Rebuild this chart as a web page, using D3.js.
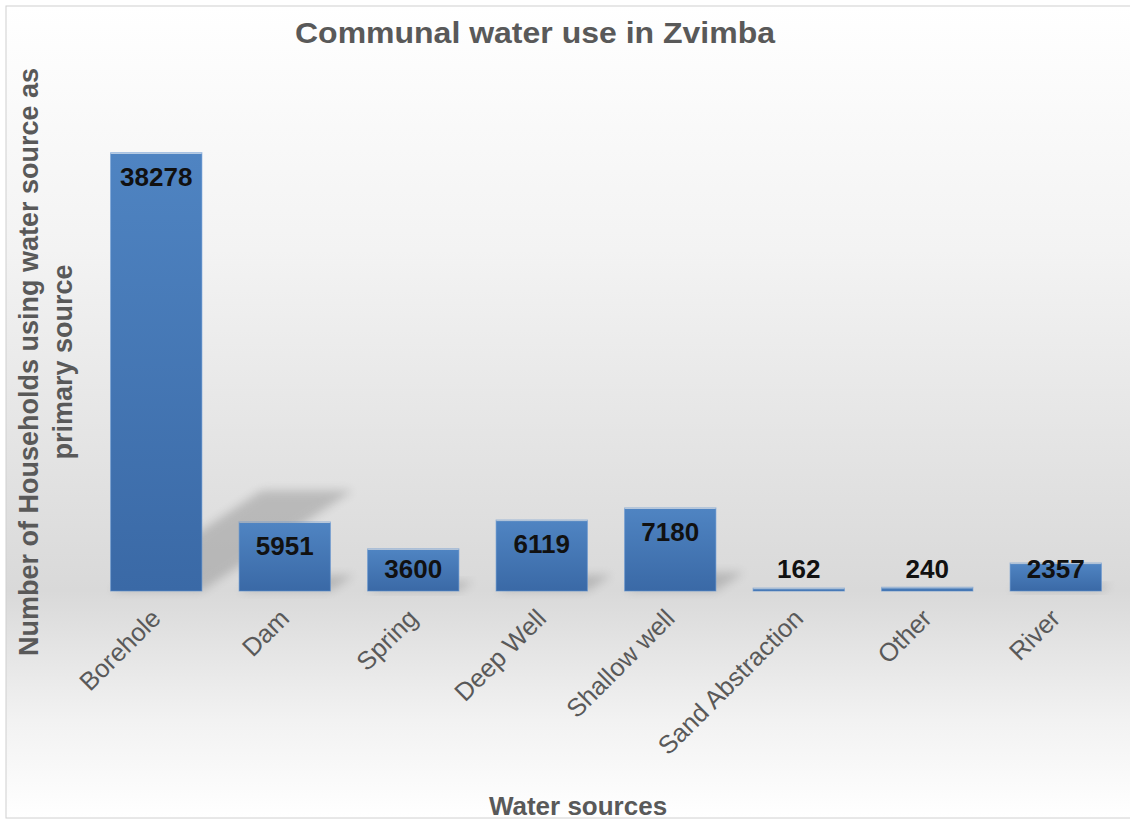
<!DOCTYPE html>
<html><head><meta charset="utf-8">
<script src="https://cdn.jsdelivr.net/npm/d3@7"></script>
<style>html,body{margin:0;padding:0;background:#fff;}svg{display:block;}</style>
</head><body><div id="chart"></div>
<script>
const categories = ["Borehole","Dam","Spring","Deep Well","Shallow well","Sand Abstraction","Other","River"];
const values = [38278,5951,3600,6119,7180,162,240,2357];
const title = "Communal water use in Zvimba";
const yTitleLines = ["Number of Households using water source as","primary source"];
const xTitle = "Water sources";

const W = 1130, H = 824;
const svg = d3.select("#chart").append("svg").attr("width", W).attr("height", H);
const defs = svg.append("defs");
const FONT = "Liberation Sans, Arial, sans-serif";

const bg = defs.append("linearGradient").attr("id","bg").attr("x1",0).attr("y1",0).attr("x2",0).attr("y2",1);
bg.append("stop").attr("offset","0%").attr("stop-color","#ffffff");
bg.append("stop").attr("offset","30%").attr("stop-color","#f3f3f3");
bg.append("stop").attr("offset","72%").attr("stop-color","#d9d9d9");
bg.append("stop").attr("offset","88%").attr("stop-color","#f2f2f2");
bg.append("stop").attr("offset","100%").attr("stop-color","#ffffff");

const bar = defs.append("linearGradient").attr("id","bar").attr("x1",0).attr("y1",0).attr("x2",0).attr("y2",1);
bar.append("stop").attr("offset","0%").attr("stop-color","#4f84c2");
bar.append("stop").attr("offset","100%").attr("stop-color","#3a69a6");

const blur = defs.append("filter").attr("id","blur").attr("x","-50%").attr("y","-50%").attr("width","200%").attr("height","200%");
blur.append("feGaussianBlur").attr("stdDeviation",5);

svg.append("rect").attr("x",6).attr("y",6).attr("width",W+10).attr("height",H-12)
  .attr("fill","url(#bg)").attr("stroke","#d0d0d0").attr("stroke-width",1);

const x = d3.scaleBand().domain(categories).range([92,1120]).paddingInner(0.29).paddingOuter(0.145);
const y = d3.scaleLinear().domain([0,40000]).range([591,134]);
const base = y(0);

// shadows
const sh = svg.append("g");
categories.forEach((c,i)=>{
  const h = base - y(values[i]);
  const x0 = x(c), x1 = x(c)+x.bandwidth();
  const dx = 0.345*h, dy = 0.23*h;
  sh.append("path")
    .attr("d", `M${x0},${base} L${x1},${base} L${x1+dx},${base-dy} L${x0+dx},${base-dy} Z`)
    .attr("fill","#8c8c8c").attr("opacity",0.45).attr("filter","url(#blur)");
});

// bars
svg.append("g").selectAll("rect").data(categories).join("rect")
  .attr("x", d=>x(d)).attr("width", x.bandwidth())
  .attr("y", (d,i)=>y(values[i])).attr("height",(d,i)=>base-y(values[i]))
  .attr("fill","url(#bar)");
svg.append("g").selectAll("rect").data(categories).join("rect")
  .attr("x", d=>x(d)).attr("width", x.bandwidth())
  .attr("y", (d,i)=>y(values[i])-1).attr("height",(d,i)=>Math.max(2, base-y(values[i])+1))
  .attr("fill","none").attr("stroke","#5b8fcf").attr("stroke-width",1).attr("opacity",0.6);

// data labels
svg.append("g").selectAll("text").data(categories).join("text")
  .attr("x", d=>x(d)+x.bandwidth()/2)
  .attr("y", (d,i)=>Math.min(y(values[i])+23, base-22))
  .attr("dy","0.35em").attr("text-anchor","middle")
  .attr("font-family",FONT).attr("font-weight","bold")
  .attr("font-size",26).attr("fill","#111")
  .text((d,i)=>values[i]);

// x axis labels
const xa = svg.append("g").attr("transform",`translate(0,${base})`)
  .call(d3.axisBottom(x).tickSize(0).tickPadding(0));
xa.select(".domain").remove();
xa.selectAll("text")
  .attr("font-family",FONT).attr("font-size",25.5).attr("fill","#595959")
  .attr("text-anchor","end").attr("dy",0)
  .attr("transform","translate(6,29) rotate(-45)")
  .attr("y",0).attr("x",0);

// title
svg.append("text").attr("x",535).attr("y",43).attr("text-anchor","middle")
  .attr("font-family",FONT).attr("font-weight","bold")
  .attr("font-size",30).attr("fill","#595959").attr("textLength",480).attr("lengthAdjust","spacingAndGlyphs")
  .text(title);

// y title
const yt = svg.append("text").attr("transform","translate(0,362) rotate(-90)")
  .attr("text-anchor","middle").attr("font-family",FONT)
  .attr("font-weight","bold").attr("font-size",27).attr("fill","#595959");
yt.append("tspan").attr("x",0).attr("y",38).text(yTitleLines[0]);
yt.append("tspan").attr("x",0).attr("y",72).text(yTitleLines[1]);

// x title
svg.append("text").attr("x",578).attr("y",815).attr("text-anchor","middle")
  .attr("font-family",FONT).attr("font-weight","bold")
  .attr("font-size",26).attr("fill","#595959").text(xTitle);
</script></body></html>
